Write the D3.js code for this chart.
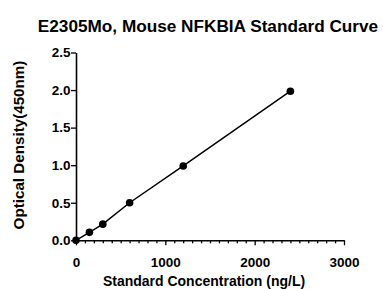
<!DOCTYPE html>
<html><head><meta charset="utf-8">
<script src="https://cdn.jsdelivr.net/npm/d3@7"></script>
<style>body{margin:0;background:#fff}svg{display:block}text{font-family:"Liberation Sans",Arial,sans-serif;font-weight:bold;fill:#000}</style>
</head><body><svg id="c" width="383" height="289"></svg>
<script>
const concentrations = [0, 150, 300, 600, 1200, 2400];
const odValues = [0.0, 0.106, 0.215, 0.50, 0.99, 1.985];
const xTicks = [0, 1000, 2000, 3000];
const yTicks = [0.0, 0.5, 1.0, 1.5, 2.0, 2.5];
const title = "E2305Mo, Mouse NFKBIA Standard Curve";
const xTitle = "Standard Concentration (ng/L)";
const yTitle = "Optical Density(450nm)";

const svg = d3.select("#c");
const x = d3.scaleLinear().domain([0, 3000]).range([76, 344]);
const y = d3.scaleLinear().domain([0, 2.5]).range([240.3, 52.5]);

svg.append("text").attr("x", 208).attr("y", 32).attr("text-anchor", "middle")
  .style("font-size", "17.2px").text(title);

// x axis
const xa = svg.append("g").attr("transform", "translate(0,240.3)");
xa.call(d3.axisBottom(x).tickValues(xTicks).tickSize(5).tickSizeOuter(0).tickFormat(d3.format("d")));
xa.append("g").call(d3.axisBottom(x).tickValues(d3.range(0, 3001, 100).filter(v => v % 1000 !== 0)).tickSize(3).tickFormat(""));
xa.selectAll("path.domain").attr("stroke-width", 1.6);
xa.selectAll(".tick line").attr("stroke-width", 1.3);
xa.selectAll(".tick text").attr("y", 26.5).attr("dy", 0).style("font-size", "13.5px").style("font-family", "Liberation Sans, Arial, sans-serif");
xa.selectAll("g g path.domain").remove();

// y axis
const ya = svg.append("g").attr("transform", "translate(76,0)");
ya.call(d3.axisLeft(y).tickValues(yTicks).tickSize(5).tickSizeOuter(0).tickFormat(d3.format(".1f")));
ya.selectAll("path.domain").attr("stroke-width", 1.6);
ya.selectAll(".tick line").attr("stroke-width", 1.3);
ya.selectAll(".tick text").attr("x", -5.5).style("font-size", "13.5px").style("font-family", "Liberation Sans, Arial, sans-serif");

svg.append("text").attr("x", 204).attr("y", 286).attr("text-anchor", "middle")
  .style("font-size", "14px").text(xTitle);
svg.append("text").attr("transform", "translate(23.5,145) rotate(-90)").attr("text-anchor", "middle")
  .style("font-size", "15.2px").text(yTitle);

const pts = concentrations.map((c, i) => [c, odValues[i]]);
svg.append("path").datum(pts)
  .attr("d", d3.line().x(d => x(d[0])).y(d => y(d[1])))
  .attr("fill", "none").attr("stroke", "#000").attr("stroke-width", 1.5);
svg.selectAll("circle.p").data(pts).enter().append("circle")
  .attr("cx", d => x(d[0])).attr("cy", d => y(d[1])).attr("r", 3.8).attr("fill", "#000");
</script></body></html>
